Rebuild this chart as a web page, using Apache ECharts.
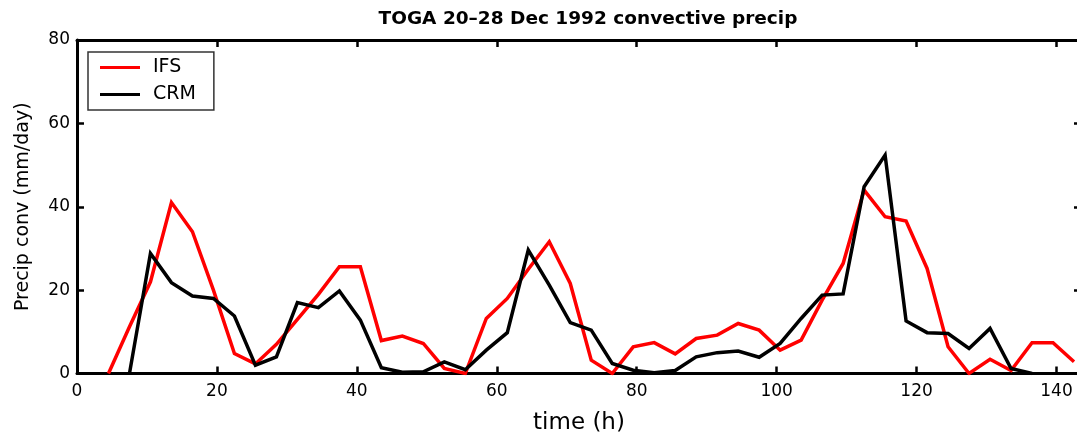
<!DOCTYPE html>
<html>
<head>
<meta charset="utf-8">
<title>TOGA 20–28 Dec 1992 convective precip</title>
<script src="https://cdn.jsdelivr.net/npm/echarts@6/dist/echarts.min.js"></script>
<style>
  html, body { margin: 0; padding: 0; background: #fff; }
  #chart { width: 1077px; height: 440px; }
</style>
</head>
<body>
<div id="chart"></div>
<script>
// 3-hourly convective precipitation (mm/day)
const ifsTime = [4.5, 7.5, 10.5, 13.5, 16.5, 19.5, 22.5, 25.5, 28.5, 31.5, 34.5, 37.5, 40.5, 43.5, 46.5, 49.5,
  52.5, 55.5, 58.5, 61.5, 64.5, 67.5, 70.5, 73.5, 76.5, 79.5, 82.5, 85.5, 88.5, 91.5, 94.5, 97.5,
  100.5, 103.5, 106.5, 109.5, 112.5, 115.5, 118.5, 121.5, 124.5, 127.5, 130.5, 133.5, 136.5, 139.5, 142.5];
const ifsPrecip = [0, 11.2, 22, 41, 34, 20, 4.8, 2.3, 7, 13, 19, 25.6, 25.6, 7.9, 9.0, 7.2,
  1.2, 0, 13.2, 18, 25, 31.6, 21.6, 3.2, 0, 6.4, 7.4, 4.7, 8.4, 9.2, 12.0, 10.4,
  5.6, 8.0, 17.6, 26.4, 44.0, 37.6, 36.6, 25.2, 6.4, 0, 3.4, 0.7, 7.4, 7.4, 2.8];

const crmTime = [7.5, 10.5, 13.5, 16.5, 19.5, 22.5, 25.5, 28.5, 31.5, 34.5, 37.5, 40.5, 43.5, 46.5, 49.5,
  52.5, 55.5, 58.5, 61.5, 64.5, 67.5, 70.5, 73.5, 76.5, 79.5, 82.5, 85.5, 88.5, 91.5, 94.5, 97.5,
  100.5, 103.5, 106.5, 109.5, 112.5, 115.5, 118.5, 121.5, 124.5, 127.5, 130.5, 133.5, 136.5];
const crmPrecip = [0, 28.8, 21.8, 18.6, 18.0, 13.8, 2.0, 4.0, 17.0, 15.8, 19.8, 12.8, 1.4, 0.3, 0.4,
  2.8, 0.9, 5.6, 9.8, 29.6, 21.2, 12.2, 10.4, 2.4, 0.8, 0.2, 0.7, 4.0, 5.0, 5.4, 3.9,
  7.2, 13.2, 18.8, 19.1, 44.8, 52.4, 12.6, 9.8, 9.6, 6.0, 10.8, 1.2, 0];

const xTicks = [0, 20, 40, 60, 80, 100, 120, 140];
const yTicks = [0, 20, 40, 60, 80];

const FONT = 'DejaVu Sans';
const pairs = (xs, ys) => xs.map((x, i) => [x, ys[i]]);

const frameLine = { show: true, onZero: false, lineStyle: { color: '#000', width: 3 } };
const innerTick = { show: true, inside: true, length: 7, lineStyle: { color: '#000', width: 2.5 } };

const chart = echarts.init(document.getElementById('chart'), null, { renderer: 'canvas' });
chart.setOption({
  animation: false,
  backgroundColor: '#fff',
  title: {
    text: 'TOGA 20–28 Dec 1992 convective precip',
    left: 583, top: 5, textAlign: 'center',
    textStyle: { fontFamily: FONT, fontSize: 18.5, fontWeight: 'bold', color: '#000' }
  },
  legend: {
    left: 88, top: 52,
    orient: 'vertical',
    data: ['IFS', 'CRM'],
    icon: 'rect',
    itemWidth: 40, itemHeight: 3,
    itemGap: 8,
    padding: [6, 18, 6, 12],
    borderColor: '#333', borderWidth: 1.5,
    backgroundColor: '#fff',
    textStyle: { fontFamily: FONT, fontSize: 19, color: '#000', lineHeight: 18, padding: [0, 0, 0, 8] }
  },
  // the right edge of the frame sits just past the canvas edge
  grid: { left: 77, right: -4, top: 40, bottom: 66.5, outerBoundsMode: 'none' },
  xAxis: [{
    type: 'value', min: 0, max: 143.5, interval: 20,
    name: 'time (h)', nameLocation: 'middle', nameGap: 38,
    nameTextStyle: { fontFamily: FONT, fontSize: 23, color: '#000' },
    axisLine: frameLine, axisTick: innerTick,
    axisLabel: {
      fontFamily: FONT, fontSize: 17, color: '#000', margin: 10,
      formatter: v => (xTicks.includes(v) ? String(v) : '')
    },
    splitLine: { show: false }
  }, {
    type: 'value', min: 0, max: 143.5, interval: 20, position: 'top',
    axisLine: frameLine, axisTick: innerTick,
    axisLabel: { show: false }, splitLine: { show: false }
  }],
  yAxis: [{
    type: 'value', min: 0, max: 80, interval: 20,
    name: 'Precip conv (mm/day)', nameLocation: 'middle', nameGap: 44,
    nameTextStyle: { fontFamily: FONT, fontSize: 19, color: '#000' },
    axisLine: frameLine, axisTick: innerTick,
    axisLabel: {
      fontFamily: FONT, fontSize: 17, color: '#000', margin: 7,
      formatter: v => (yTicks.includes(v) ? String(v) : '')
    },
    splitLine: { show: false }
  }, {
    type: 'value', min: 0, max: 80, interval: 20, position: 'right',
    axisLine: frameLine, axisTick: innerTick,
    axisLabel: { show: false }, splitLine: { show: false }
  }],
  series: [{
    name: 'IFS', type: 'line', data: pairs(ifsTime, ifsPrecip),
    showSymbol: false, symbol: 'none',
    lineStyle: { color: '#ff0000', width: 3.5, join: 'miter' },
    itemStyle: { color: '#ff0000' },
    clip: true
  }, {
    name: 'CRM', type: 'line', data: pairs(crmTime, crmPrecip),
    showSymbol: false, symbol: 'none',
    lineStyle: { color: '#000', width: 3.5, join: 'miter' },
    itemStyle: { color: '#000' },
    clip: true
  }]
});
</script>
</body>
</html>
